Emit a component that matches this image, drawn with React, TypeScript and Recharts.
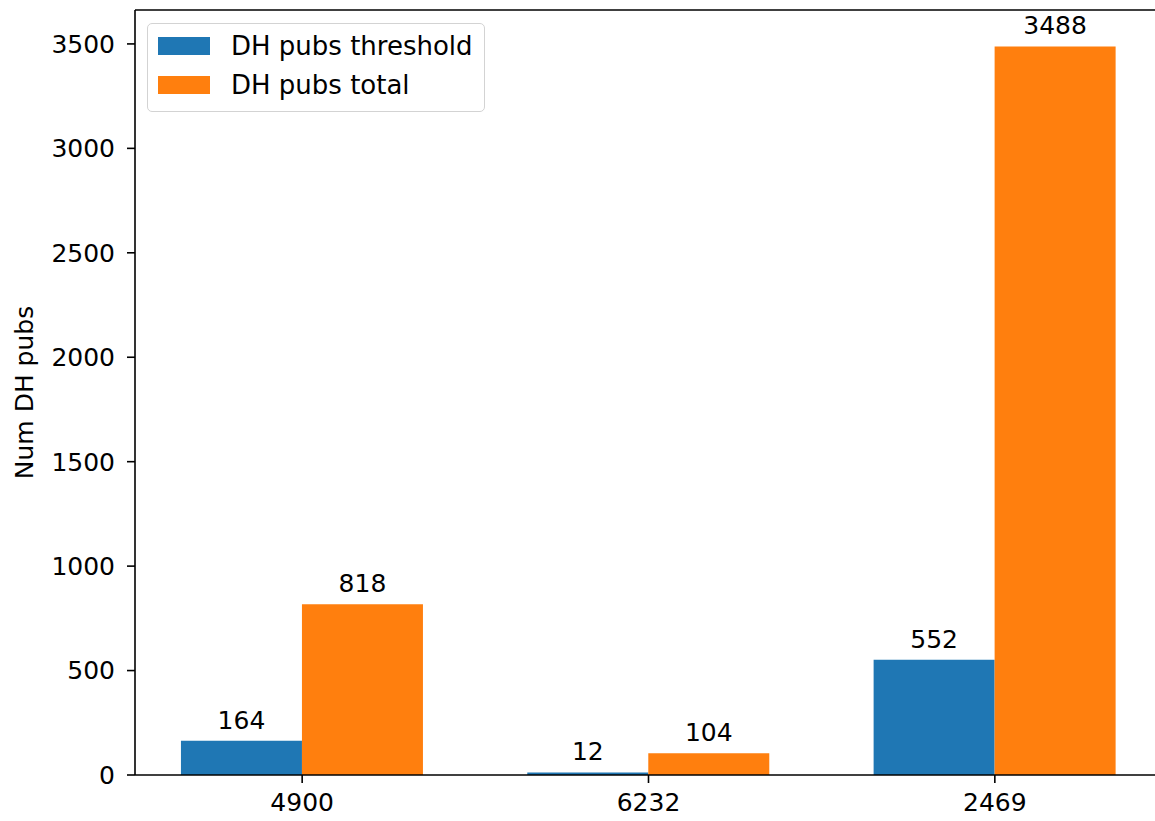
import React from 'react';
import { BarChart, Bar, XAxis, YAxis, Legend, LabelList, ReferenceLine } from 'recharts';

const categories = ['4900', '6232', '2469'];
const thresholdValues = [164, 12, 552];
const totalValues = [818, 104, 3488];
const yTicks = [0, 500, 1000, 1500, 2000, 2500, 3000, 3500];
const seriesNames = { threshold: 'DH pubs threshold', total: 'DH pubs total' };
const yLabel = 'Num DH pubs';

const BLUE = '#1f77b4';
const ORANGE = '#ff7f0e';
const FONT = 'DejaVu Sans';
const FS = 25;

const data = categories.map((c, i) => ({
  name: c,
  threshold: thresholdValues[i],
  total: totalValues[i],
}));

const yMax = Math.max(...totalValues, ...thresholdValues) * 1.05;

const LegendBox = (props: any) => {
  const payload = props.payload || [];
  return (
    <div
      style={{
        position: 'relative',
        width: 336,
        height: 87,
        border: '1.5px solid #d3d3d3',
        borderRadius: 5,
        background: 'rgba(255,255,255,0.8)',
        fontFamily: FONT,
        fontSize: 26,
        color: '#000',
      }}
    >
      {payload.map((p: any, i: number) => (
        <div key={i} style={{ position: 'absolute', left: 10, top: 12 + i * 39, height: 20, display: 'flex', alignItems: 'center' }}>
          <div style={{ width: 52, height: 18, background: p.color }} />
          <span style={{ marginLeft: 21, lineHeight: '20px', whiteSpace: 'nowrap' }}>{p.value}</span>
        </div>
      ))}
    </div>
  );
};

const YLabelContent = (props: any) => {
  const vb = props.viewBox || { y: 10, height: 765 };
  const cx = 24;
  const cy = vb.y + vb.height / 2;
  return (
    <text
      x={cx}
      y={cy}
      transform={`rotate(-90 ${cx} ${cy})`}
      textAnchor="middle"
      dominantBaseline="central"
      fontFamily={FONT}
      fontSize={FS}
      fill="#000"
    >
      {yLabel}
    </text>
  );
};

export default function App() {
  return (
    <div style={{ position: 'fixed', left: 0, top: 0, width: 1155, height: 821, overflow: 'hidden', background: '#fff' }}>
      <BarChart
        width={1170}
        height={821}
        data={data}
        margin={{ top: 10, right: 8, bottom: 0, left: 0 }}
        barCategoryGap="15%"
        barGap={0}
        style={{ fontFamily: FONT }}
      >
        <XAxis
          dataKey="name"
          height={46}
          padding={{ left: -6, right: -6 }}
          tickSize={8}
          tickMargin={10}
          tick={{ fill: '#000', fontSize: FS, fontFamily: FONT }}
          axisLine={{ stroke: '#000', strokeWidth: 1.6 }}
          tickLine={{ stroke: '#000', strokeWidth: 1.6 }}
        />
        <YAxis
          width={135}
          domain={[0, yMax]}
          ticks={yTicks}
          allowDataOverflow
          tickSize={8}
          tickMargin={12}
          tick={{ fill: '#000', fontSize: FS, fontFamily: FONT }}
          axisLine={{ stroke: '#000', strokeWidth: 1.6 }}
          tickLine={{ stroke: '#000', strokeWidth: 1.6 }}
          label={{ position: 'center', content: <YLabelContent /> }}
        />
        <ReferenceLine y={yMax} stroke="#000" strokeWidth={1.6} ifOverflow="extendDomain" />
        <Legend
          layout="vertical"
          align="center"
          verticalAlign="middle"
          content={<LegendBox />}
          wrapperStyle={{ left: 147, top: 23, width: 340, height: 90 }}
        />
        <Bar dataKey="threshold" name={seriesNames.threshold} fill={BLUE} isAnimationActive={false}>
          <LabelList dataKey="threshold" position="top" offset={12} fill="#000" fontSize={FS} fontFamily={FONT} />
        </Bar>
        <Bar dataKey="total" name={seriesNames.total} fill={ORANGE} isAnimationActive={false}>
          <LabelList dataKey="total" position="top" offset={12} fill="#000" fontSize={FS} fontFamily={FONT} />
        </Bar>
      </BarChart>
    </div>
  );
}
